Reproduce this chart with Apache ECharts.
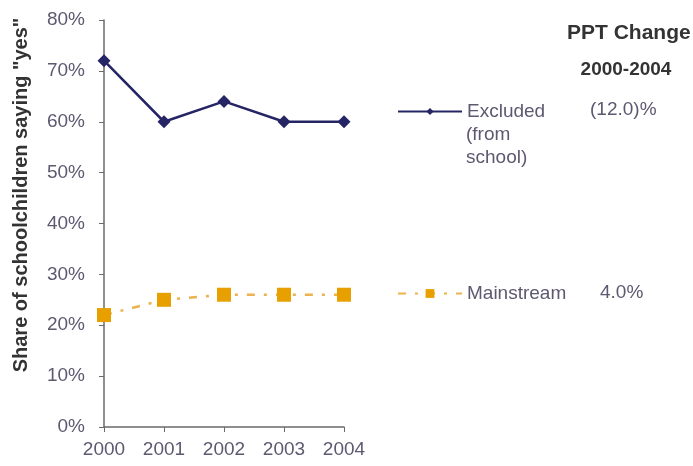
<!DOCTYPE html>
<html><head><meta charset="utf-8">
<script src="https://cdn.jsdelivr.net/npm/echarts@6/dist/echarts.min.js"></script>
<style>html,body{margin:0;padding:0;background:#fff}#c{width:693px;height:466px}</style>
</head><body><div id="c"></div>
<script>
var years = ['2000','2001','2002','2003','2004'];
var excluded = [72, 60, 64, 60, 60];
var mainstream = [22, 25, 26, 26, 26];
var seriesNames = ['Excluded', 'Mainstream'];
var excludedExtra = '(from\nschool)';
var changeLabels = ['(12.0)%', '4.0%'];
var headerLines = ['PPT Change', '2000-2004'];
var yTitle = 'Share of schoolchildren saying "yes"';

var txt = '#5e5870';
var FF = 'Liberation Sans, Arial, sans-serif';
var chart = echarts.init(document.getElementById('c'));
chart.setOption({
  animation: false,
  backgroundColor: '#fff',
  grid: {left: 104, right: 349, top: 20, bottom: 39, containLabel: false},
  xAxis: {
    type: 'category', data: years, boundaryGap: false,
    axisLine: {lineStyle: {color: '#6a6a6a', width: 1.5}},
    axisTick: {show: true, inside: false, length: 5, lineStyle: {color: '#6a6a6a'}},
    axisLabel: {color: txt, fontSize: 19, fontFamily: FF, margin: 13}
  },
  yAxis: {
    type: 'value', min: 0, max: 80, interval: 10,
    axisLine: {show: true, lineStyle: {color: '#6a6a6a', width: 1.5}},
    axisTick: {show: true, length: 5, lineStyle: {color: '#6a6a6a'}},
    splitLine: {show: false},
    axisLabel: {color: txt, fontSize: 19, fontFamily: FF, formatter: '{value}%', margin: 19}
  },
  legend: [{
    data: [seriesNames[0]], left: 397, top: 102, padding: 0,
    itemWidth: 64, itemHeight: 9, itemGap: 4,
    textStyle: {color: txt, fontSize: 19, fontFamily: FF}
  }, {
    data: [seriesNames[1]], left: 397, top: 284, padding: 0,
    itemWidth: 64, itemHeight: 11, itemGap: 4,
    textStyle: {color: txt, fontSize: 19, fontFamily: FF}
  }],
  graphic: [
    {type: 'text', x: 21, y: 195, rotation: Math.PI / 2,
     style: {text: yTitle, font: 'bold 20px ' + FF, fill: '#333', align: 'center', verticalAlign: 'middle'}},
    {type: 'text', x: 466, y: 123, style: {text: excludedExtra, font: '19px ' + FF, fill: txt, lineHeight: 23}},
    {type: 'text', x: 567, y: 33, style: {text: headerLines[0], font: 'bold 21px ' + FF, fill: '#333', verticalAlign: 'middle'}},
    {type: 'text', x: 626, y: 70, style: {text: headerLines[1], font: 'bold 19px ' + FF, fill: '#333', align: 'center', verticalAlign: 'middle'}},
    {type: 'text', x: 590, y: 110, style: {text: changeLabels[0], font: '19px ' + FF, fill: txt, verticalAlign: 'middle'}},
    {type: 'text', x: 600, y: 293, style: {text: changeLabels[1], font: '19px ' + FF, fill: txt, verticalAlign: 'middle'}}
  ],
  series: [{
    name: seriesNames[0], type: 'line', data: excluded,
    symbol: 'diamond', symbolSize: 13,
    itemStyle: {color: '#252566'}, lineStyle: {color: '#252566', width: 2.5}
  }, {
    name: seriesNames[1], type: 'line', data: mainstream,
    symbol: 'rect', symbolSize: 14,
    itemStyle: {color: '#e8a000'}, lineStyle: {color: '#ebb24e', width: 2.5, type: [8, 9, 3, 9]}
  }]
});
</script></body></html>
